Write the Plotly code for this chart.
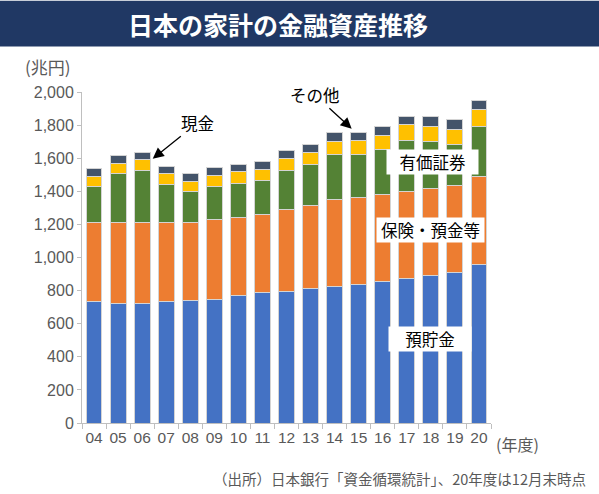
import plotly.graph_objects as go

years = ["04", "05", "06", "07", "08", "09", "10", "11", "12",
         "13", "14", "15", "16", "17", "18", "19", "20"]
deposits = [732, 722, 722, 732, 740, 748, 768, 786, 796,
            814, 822, 835, 853, 871, 889, 907, 955]
insurance = [479, 489, 489, 479, 471, 481, 473, 473, 497,
             499, 529, 527, 525, 527, 527, 527, 535]
securities = [221, 295, 313, 231, 185, 203, 209, 209, 231,
              248, 274, 263, 275, 309, 285, 247, 304]
cash = [58, 65, 67, 64, 64, 64, 68, 66, 75,
        74, 76, 84, 85, 97, 93, 93, 100]
other = [47, 48, 46, 46, 48, 48, 44, 48, 48,
         48, 55, 47, 56, 46, 56, 58, 56]

series = [
    ("預貯金", deposits, "#4472C4"),
    ("保険・預金等", insurance, "#ED7D31"),
    ("有価証券", securities, "#548235"),
    ("現金", cash, "#FFC000"),
    ("その他", other, "#44546A"),
]

W, H = 599, 494
L, R, T, B = 82, 108, 91.5, 71
PW = W - L - R
PH = H - T - B


def px(x):
    return (x - L) / PW


def py(y):
    return (H - B - y) / PH


JP = "Noto Sans CJK JP"
NUM = "Liberation Sans, Noto Sans CJK JP"
GRAY = "#595959"
AX = "#BFBFBF"

fig = go.Figure()
for name, vals, col in series:
    fig.add_trace(go.Bar(
        x=years, y=vals, name=name,
        marker=dict(color=col, line=dict(color="#D4D4D4", width=1)),
        hoverinfo="x+y+name",
    ))

annotations = [
    dict(x=px(278), y=py(23), text="<b>日本の家計の金融資産推移</b>",
         font=dict(family=JP, size=25, color="white")),
    dict(x=px(48), y=py(66), text="(兆円)",
         font=dict(family=JP, size=17, color=GRAY)),
    dict(x=px(517), y=py(444), text="(年度)",
         font=dict(family=JP, size=16, color=GRAY)),
    dict(x=px(588), y=py(479), text="（出所）日本銀行「資金循環統計」、20年度は12月末時点",
         xanchor="right", font=dict(family=JP, size=14.5, color=GRAY)),
    dict(x=px(432.5), y=py(162), text="有価証券", bgcolor="white",
         width=87, height=20, borderpad=2,
         font=dict(family=JP, size=16.5, color="black")),
    dict(x=px(430.5), y=py(229.5), text="保険・預金等", bgcolor="white",
         width=103, height=20, borderpad=2,
         font=dict(family=JP, size=16.5, color="black")),
    dict(x=px(430), y=py(339), text="預貯金", bgcolor="white",
         width=78, height=20, borderpad=2,
         font=dict(family=JP, size=16.5, color="black")),
    dict(x=px(152.7), y=py(158.3), text="現金", showarrow=True,
         ax=45, ay=-36, arrowhead=2, arrowsize=1.7, arrowwidth=1.3,
         arrowcolor="black", standoff=0,
         font=dict(family=JP, size=16.5, color="black")),
    dict(x=px(351.7), y=py(128.3), text="その他", showarrow=True,
         ax=-37, ay=-34, arrowhead=2, arrowsize=1.7, arrowwidth=1.3,
         arrowcolor="black", standoff=0,
         font=dict(family=JP, size=16.5, color="black")),
]
for a in annotations:
    a.setdefault("xref", "paper")
    a.setdefault("yref", "paper")
    a.setdefault("showarrow", False)
    a.setdefault("xanchor", "center")
    a.setdefault("yanchor", "middle")

fig.update_layout(
    width=W, height=H,
    margin=dict(l=L, r=R, t=T, b=B, autoexpand=False),
    paper_bgcolor="white", plot_bgcolor="white",
    barmode="stack", bargap=0.34,
    showlegend=False,
    font=dict(family=NUM, color=GRAY),
    shapes=[dict(type="rect", xref="paper", yref="paper",
                 x0=px(0), x1=px(W), y0=py(46), y1=py(0),
                 fillcolor="#203864", line=dict(width=0), layer="below")],
    annotations=annotations,
    xaxis=dict(type="category", showline=True, linecolor=AX, linewidth=1,
               ticks="outside", tickson="boundaries", ticklen=5, tickcolor=AX,
               tickangle=0, showgrid=False,
               tickfont=dict(family=NUM, size=15.5, color=GRAY)),
    yaxis=dict(range=[0, 2000], dtick=200, tickformat=",", showline=True,
               linecolor=AX, linewidth=1, ticks="outside", ticklen=4,
               tickcolor=AX, showgrid=False, zeroline=False,
               tickfont=dict(family=NUM, size=16, color=GRAY)),
)

fig.write_html("out.html", config={"displayModeBar": False},
               post_script="document.body.style.margin='0';document.body.style.overflow='hidden';")
